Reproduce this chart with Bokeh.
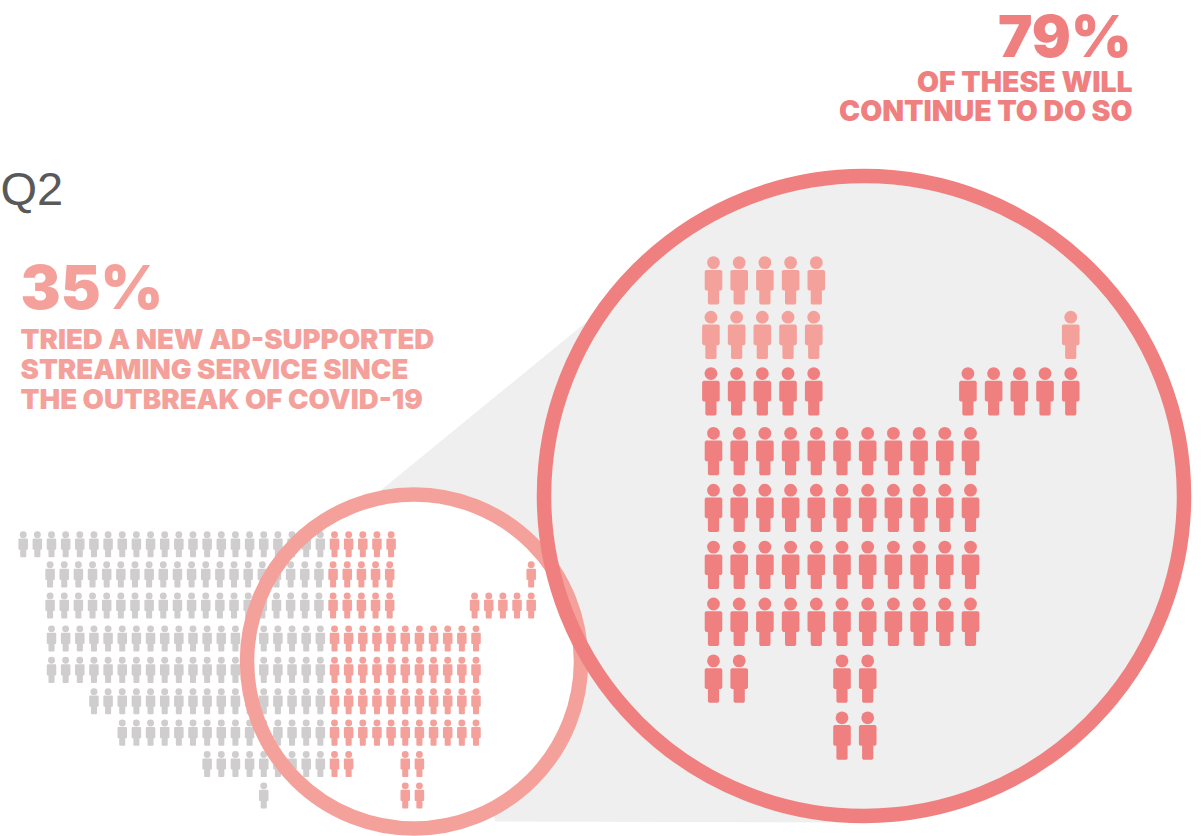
from bokeh.core.properties import value
from bokeh.embed import file_html
from bokeh.models import Range1d
from bokeh.plotting import figure
from bokeh.resources import INLINE

# Pictogram rows: each entry lists inclusive (first column, last column) spans.
GREY_ROWS = [[(0, 21)], [(2, 21)], [(2, 21)], [(2, 21)], [(2, 21)],
             [(5, 21)], [(7, 21)], [(13, 21)], [(17, 17)]]
TRIED_ROWS = [[(22, 26)], [(22, 26), (36, 36)], [(22, 26), (32, 36)],
              [(22, 32)], [(22, 32)], [(22, 32)], [(22, 32)],
              [(22, 23), (27, 28)], [(27, 28)]]
STAY_FROM_ROW = 2

SHARE_TRIED = "35%"
SHARE_CONTINUE = "79%"
TRIED_LINES = ["TRIED A NEW AD-SUPPORTED", "STREAMING SERVICE SINCE", "THE OUTBREAK OF COVID-19"]
CONTINUE_LINES = ["OF THESE WILL", "CONTINUE TO DO SO"]
QUARTER = "Q2"

GREY = "#cfcdcd"
LIGHT = "#f5a19b"
DARK = "#f08080"
PANEL = "#efefef"
FONT = value("Liberation Sans")
HEAVY = value("Inter Black")

# Small grid and magnified grid layouts, in page pixels.
SMALL = dict(x22=334.0, dx=14.15, top=530.7, dy=31.4, scale=0.54)
LARGE = dict(x22=713.0, dx=25.7, top=255.7, dy=56.9, scale=1.0)
ROW_NUDGE_X = [0, -0.1, -0.1, 0, 0, 0, 0, 0, 0]
ROW_NUDGE_Y = [0, -0.04, -0.05, 0, 0, 0, 0, 0, 0]

# Body outline of one figure, relative to the top centre of its head.
BODY_X = [-7.5, 7.5, 8.8, 8.8, 7.5, 5.6, 5.6, 4.4, -4.4, -5.6, -5.6, -7.5, -8.8, -8.8]
BODY_Y = [13.7, 13.7, 15, 33, 34.4, 34.4, 47, 48.3, 48.3, 47, 34.4, 34.4, 33, 15]
HEAD_D = 12.8


def people(rows, grid, row_subset=None):
    """Expand row spans into head centres and body outlines."""
    hx, hy, bx, by = [], [], [], []
    s = grid["scale"]
    for r, spans in enumerate(rows):
        if row_subset is not None and r not in row_subset:
            continue
        nudge_x = ROW_NUDGE_X[r] * grid["dx"]
        top = grid["top"] + (r + ROW_NUDGE_Y[r]) * grid["dy"]
        for first, last in spans:
            for c in range(first, last + 1):
                x = grid["x22"] + (c - 22) * grid["dx"] + nudge_x
                hx.append(x)
                hy.append(top + s * HEAD_D / 2)
                bx.append([x + s * v for v in BODY_X])
                by.append([top + s * v for v in BODY_Y])
    return hx, hy, bx, by


def draw_people(p, rows, grid, color, row_subset=None):
    hx, hy, bx, by = people(rows, grid, row_subset)
    d = HEAD_D * grid["scale"]
    p.ellipse(hx, hy, width=d, height=d, fill_color=color, line_color=None)
    p.patches(bx, by, fill_color=color, line_color=None)


p = figure(width=1202, height=836, output_backend="svg", toolbar_location=None,
           x_range=Range1d(0, 1202), y_range=Range1d(836, 0),
           min_border=0, outline_line_color=None, background_fill_color="white")
p.axis.visible = False
p.grid.visible = False

# Zoom wedge joining the small circle to the large one.
p.patch([380, 600, 860, 495], [490, 310, 822, 821], fill_color=PANEL, line_color=None)

# Large circle's panel, then the small circle with its population.
p.circle([863.5], [495.5], radius=320, fill_color=PANEL, line_color=None)
p.circle([413.5], [661], radius=167, fill_color="white", line_color=None)
draw_people(p, GREY_ROWS, SMALL, GREY)
draw_people(p, TRIED_ROWS, SMALL, LIGHT)
p.circle([413.5], [661], radius=167, fill_color=None, line_color=LIGHT, line_width=14.5)
p.circle([863.5], [495.5], radius=320, fill_color=None, line_color=DARK, line_width=14.5)

# Magnified group: the top rows stay light, the rest are the 79% who continue.
all_rows = range(len(TRIED_ROWS))
draw_people(p, TRIED_ROWS, LARGE, LIGHT, [r for r in all_rows if r < STAY_FROM_ROW])
draw_people(p, TRIED_ROWS, LARGE, DARK, [r for r in all_rows if r >= STAY_FROM_ROW])

# Captions, placed by the vertical middle of their capitals.
p.text([0], [188], text=[QUARTER], text_font=FONT, text_font_size="47px",
       text_color="#595959", text_baseline="middle")
p.text([20], [286], text=[SHARE_TRIED], text_font=HEAVY, text_font_size="60px",
       text_color=LIGHT, text_baseline="middle")
p.text([20, 20, 20], [338, 368, 398], text=TRIED_LINES, text_font=HEAVY, text_font_size="27.6px",
       text_color=LIGHT, text_baseline="middle")
p.text([1131], [35], text=[SHARE_CONTINUE], text_font=HEAVY, text_font_size="58px",
       text_color=DARK, text_align="right", text_baseline="middle")
p.text([1132, 1132], [81, 110], text=CONTINUE_LINES, text_font=HEAVY, text_font_size="28.4px",
       text_color=DARK, text_align="right", text_baseline="middle")

open("out.html", "w").write(file_html(p, INLINE))
